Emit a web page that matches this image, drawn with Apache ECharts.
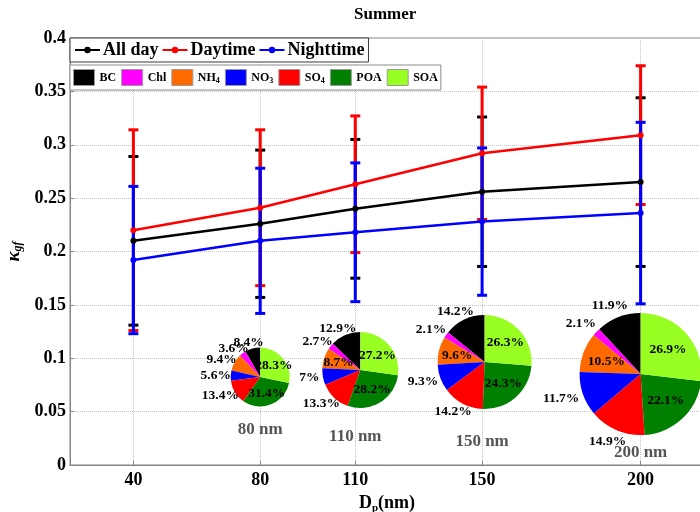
<!DOCTYPE html>
<html>
<head>
<meta charset="utf-8">
<script src="https://cdn.jsdelivr.net/npm/echarts@6/dist/echarts.min.js"></script>
<style>
  html, body { margin: 0; padding: 0; background: #fff; }
  #chart { width: 700px; height: 512px; }
</style>
</head>
<body>
<div id="chart"></div>
<script>
// Particle diameters (nm) on the x axis
const sizes = [40, 80, 110, 150, 200];

// Mean hygroscopicity parameter and its standard deviation
const allDay = [0.210, 0.226, 0.240, 0.256, 0.265];
const allDaySd = [0.079, 0.069, 0.065, 0.070, 0.079];
const daytime = [0.220, 0.241, 0.263, 0.292, 0.309];
const daytimeSd = [0.094, 0.073, 0.064, 0.062, 0.065];
const nighttime = [0.192, 0.210, 0.218, 0.228, 0.236];
const nighttimeSd = [0.069, 0.068, 0.065, 0.069, 0.085];

// Chemical composition (%) for selected diameters
const components = ['BC', 'Chl', 'NH4', 'NO3', 'SO4', 'POA', 'SOA'];
const pieSizes = [80, 110, 150, 200];
const comp80 = [8.4, 3.6, 9.4, 5.6, 13.4, 31.4, 28.3];
const comp110 = [12.9, 2.7, 8.7, 7, 13.3, 28.2, 27.2];
const comp150 = [14.2, 2.1, 9.6, 9.3, 14.2, 24.3, 26.3];
const comp200 = [11.9, 2.1, 10.5, 11.7, 14.9, 22.1, 26.9];
const compositions = [comp80, comp110, comp150, comp200];

// Y axis ticks
const yMin = 0, yMax = 0.4, yStep = 0.05;

// ---- styling / layout ----
const FONT = "'Liberation Serif', 'Times New Roman', serif";
const componentColors = ['#000000', '#ff00ff', '#ff6a00', '#0000ff', '#ff0000', '#007f00', '#99ff22'];
const pieLayout = [
  { cy: 0.0824, r: 29.5, dx: 0, labelY: 0.0328, inside: ['SOA', 'POA'] },
  { cy: 0.0890, r: 38, dx: 5, labelY: 0.0262, inside: ['SOA', 'POA', 'NH4'] },
  { cy: 0.0965, r: 47, dx: 2.5, labelY: 0.0215, inside: ['SOA', 'POA', 'NH4'] },
  { cy: 0.0852, r: 61, dx: 0, labelY: 0.0112, inside: ['SOA', 'POA', 'NH4'] }
];

const chart = echarts.init(document.getElementById('chart'), null, { renderer: 'canvas' });

function errorBars(name, values, sds, color) {
  return {
    type: 'custom',
    name: name,
    z: 2,
    silent: true,
    data: sizes.map((s, i) => [s, values[i] - sds[i], values[i] + sds[i]]),
    encode: { x: 0, y: [1, 2] },
    renderItem(params, api) {
      const lo = api.coord([api.value(0), api.value(1)]);
      const hi = api.coord([api.value(0), api.value(2)]);
      const hw = 5;
      const st = { stroke: color, lineWidth: 3 };
      return {
        type: 'group',
        children: [
          { type: 'line', shape: { x1: lo[0], y1: lo[1], x2: hi[0], y2: hi[1] }, style: st },
          { type: 'line', shape: { x1: lo[0] - hw, y1: lo[1], x2: lo[0] + hw, y2: lo[1] }, style: st },
          { type: 'line', shape: { x1: hi[0] - hw, y1: hi[1], x2: hi[0] + hw, y2: hi[1] }, style: st }
        ]
      };
    }
  };
}

function meanLine(name, values, color) {
  return {
    type: 'line',
    name: name,
    z: 3,
    silent: true,
    data: sizes.map((s, i) => [s, values[i]]),
    symbol: 'circle',
    symbolSize: 6,
    itemStyle: { color: color },
    lineStyle: { color: color, width: 2.5 }
  };
}

const baseSeries = [
  errorBars('All day range', allDay, allDaySd, '#000000'),
  errorBars('Daytime range', daytime, daytimeSd, '#ff0000'),
  errorBars('Nighttime range', nighttime, nighttimeSd, '#0000ff'),
  meanLine('All day', allDay, '#000000'),
  meanLine('Daytime', daytime, '#ff0000'),
  meanLine('Nighttime', nighttime, '#0000ff'),
  {
    type: 'scatter',
    name: 'size labels',
    silent: true,
    z: 4,
    symbolSize: 1,
    itemStyle: { color: 'rgba(0,0,0,0)' },
    data: pieSizes.map((s, i) => ({ value: [s, pieLayout[i].labelY], name: s + ' nm' })),
    label: {
      show: true, position: 'inside', formatter: '{b}',
      fontFamily: FONT, fontWeight: 'bold', fontSize: 17, color: '#2a2a2a'
    }
  }
];

const gridLine = { show: true, lineStyle: { color: '#c4c4c4', type: 'dotted', width: 1 } };
const axisGray = '#858585';

chart.setOption({
  animation: false,
  backgroundColor: '#fff',
  title: {
    text: 'Summer', left: 354, top: 6, padding: 0,
    textStyle: { fontFamily: FONT, fontWeight: 'bold', fontSize: 17, color: '#000' }
  },
  grid: {
    left: 70, top: 38, width: 634, height: 427,
    containLabel: false, outerBoundsMode: 'none',
    show: true, borderColor: axisGray, borderWidth: 1
  },
  legend: [
    {
      data: ['All day', 'Daytime', 'Nighttime'],
      left: 70, top: 38, orient: 'horizontal',
      itemWidth: 25, itemHeight: 8, itemGap: 3,
      padding: [3, 4, 3, 4],
      borderColor: '#3a3a3a', borderWidth: 1, backgroundColor: '#fff',
      selectedMode: false,
      textStyle: { fontFamily: FONT, fontWeight: 'bold', fontSize: 18, color: '#000', padding: [0, 0, 0, -2] }
    },
    {
      data: components,
      left: 70, top: 65, orient: 'horizontal',
      icon: 'rect', itemWidth: 21, itemHeight: 16, itemGap: 5,
      padding: [4, 3, 4, 3],
      borderColor: '#8c8c8c', borderWidth: 1, backgroundColor: '#fff',
      selectedMode: false,
      itemStyle: { borderColor: '#9a9a9a', borderWidth: 1 },
      formatter: n => n.replace(/(\d)$/, '{s|$1}'),
      textStyle: {
        fontFamily: FONT, fontWeight: 'bold', fontSize: 12, color: '#000',
        rich: { s: { fontFamily: FONT, fontWeight: 'bold', fontSize: 8, padding: [6, 0, 0, 0], color: '#000' } }
      }
    }
  ],
  xAxis: {
    type: 'value', min: 20, max: 220,
    name: '{a|D}{b|p}{a|(nm)}', nameLocation: 'middle', nameGap: 19,
    nameTextStyle: {
      rich: {
        a: { fontFamily: FONT, fontWeight: 'bold', fontSize: 18, color: '#000' },
        b: { fontFamily: FONT, fontWeight: 'bold', fontSize: 11, color: '#000', padding: [10, 0, 0, 0] }
      }
    },
    axisLine: { show: true, lineStyle: { color: axisGray, width: 1 } },
    axisTick: { show: true, inside: true, length: 4, customValues: sizes, lineStyle: { color: axisGray } },
    axisLabel: {
      customValues: sizes, margin: 6,
      fontFamily: FONT, fontWeight: 'bold', fontSize: 18, color: '#000'
    },
    splitLine: gridLine
  },
  yAxis: {
    type: 'value', min: yMin, max: yMax, interval: yStep,
    name: '{k|κ}{s|gf}', nameLocation: 'middle', nameRotate: 90, nameGap: 40,
    nameTextStyle: {
      rich: {
        k: { fontFamily: FONT, fontWeight: 'bold', fontStyle: 'italic', fontSize: 19, color: '#000' },
        s: { fontFamily: FONT, fontWeight: 'bold', fontStyle: 'italic', fontSize: 12, color: '#000', padding: [8, 0, 0, 0] }
      }
    },
    axisLine: { show: true, lineStyle: { color: axisGray, width: 1 } },
    axisTick: { show: true, inside: true, length: 4, lineStyle: { color: axisGray } },
    axisLabel: { margin: 4, fontFamily: FONT, fontWeight: 'bold', fontSize: 18, color: '#000' },
    splitLine: gridLine
  },
  series: baseSeries
});

// Composition pies, centred through the cartesian scales
function pieLabelLayout(values, cx, cy, r, inside) {
  const total = values.reduce((a, b) => a + b, 0);
  const mids = [];
  let acc = 0;
  values.forEach(v => { mids.push((acc + v / 2) / total); acc += v; });
  return function (p) {
    const i = p.dataIndex;
    const th = mids[i] * 2 * Math.PI;
    const sx = -Math.sin(th), sy = -Math.cos(th);
    const isIn = inside.indexOf(components[i]) >= 0;
    const d = isIn ? 0.6 * r : 1.2 * r;
    let x = cx + d * sx;
    const y = cy + d * sy;
    if (!isIn) x += 0.3 * p.labelRect.width * sx;
    return { x: x, y: y, align: 'center', verticalAlign: 'middle' };
  };
}

const pieSeries = pieSizes.map((s, k) => {
  const L = pieLayout[k];
  const c = chart.convertToPixel({ xAxisIndex: 0, yAxisIndex: 0 }, [s, L.cy]);
  const cx = c[0] + L.dx, cy = c[1];
  return {
    type: 'pie',
    name: s + ' nm composition',
    silent: true,
    z: 5,
    center: [cx, cy],
    radius: [0, L.r],
    startAngle: 90,
    clockwise: false,
    avoidLabelOverlap: false,
    data: components.map((n, i) => ({
      name: n, value: compositions[k][i],
      itemStyle: { color: componentColors[i] }
    })),
    label: {
      show: true, position: 'outside',
      formatter: p => p.value + '%',
      fontFamily: FONT, fontWeight: 'bold', fontSize: 13.5, color: '#000'
    },
    labelLine: { show: false },
    labelLayout: pieLabelLayout(compositions[k], cx, cy, L.r, L.inside),
    emphasis: { disabled: true }
  };
});

chart.setOption({ series: baseSeries.concat(pieSeries) });
</script>
</body>
</html>
